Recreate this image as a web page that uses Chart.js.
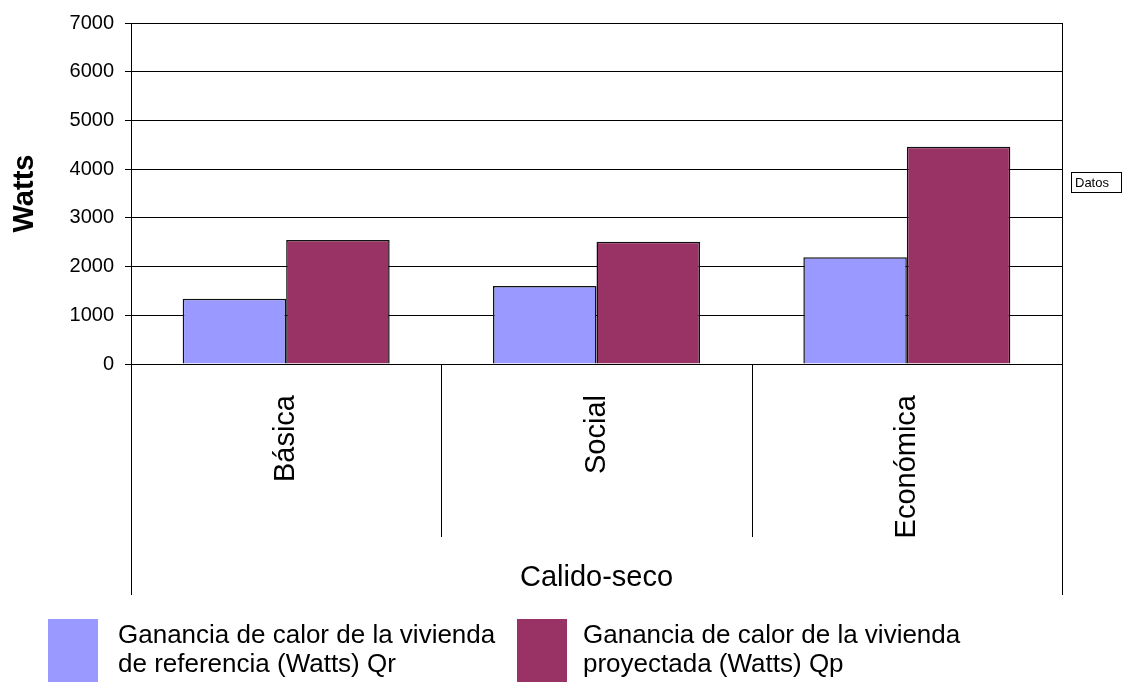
<!DOCTYPE html>
<html>
<head>
<meta charset="utf-8">
<script src="https://cdn.jsdelivr.net/npm/chart.js@4"></script>
<style>
  html, body { margin: 0; padding: 0; background: #fff; }
  #wrap { width: 1122px; height: 682px; position: relative; }
</style>
</head>
<body>
<div id="wrap"><canvas id="myChart"></canvas></div>
<script>
const categories = ['Básica', 'Social', 'Económica'];
const qrValues = [1340, 1600, 2190];   // referencia
const qpValues = [2545, 2510, 4460];   // proyectada
const yTicks = [0, 1000, 2000, 3000, 4000, 5000, 6000, 7000];
const seriesNames = [
  ['Ganancia de calor de la vivienda', 'de referencia (Watts) Qr'],
  ['Ganancia de calor de la vivienda', 'proyectada (Watts) Qp']
];
const colors = ['#9999FF', '#993366'];

const FONT = "'Liberation Sans', Arial, sans-serif";

// Excel style category dividers, legend and the "Datos" button
const excelBits = {
  id: 'excelBits',
  afterDraw(chart) {
    const c = chart.ctx;
    const x = chart.scales.x;
    const area = chart.chartArea;
    c.save();
    c.strokeStyle = '#000';
    c.lineWidth = 1;
    for (let i = 0; i <= categories.length; i++) {
      const px = Math.round(x.getPixelForValue(i - 0.5)) + 0.5;
      const edge = i === 0 || i === categories.length;
      c.beginPath();
      c.moveTo(px, edge ? area.top : area.bottom);
      c.lineTo(px, edge ? 595 : 537);
      c.stroke();
    }

    // legend
    const items = [{ bx: 48, tx: 118 }, { bx: 517, tx: 583 }];
    c.font = '26px ' + FONT;
    c.textBaseline = 'middle';
    c.textAlign = 'left';
    items.forEach((it, i) => {
      c.fillStyle = colors[i];
      c.fillRect(it.bx, 619, 50, 63);
      c.fillStyle = '#000';
      seriesNames[i].forEach((line, j) => c.fillText(line, it.tx, 636 + j * 29));
    });

    // Datos field button
    c.fillStyle = '#fff';
    c.fillRect(1071.5, 172.5, 50, 20);
    c.strokeRect(1071.5, 172.5, 50, 20);
    c.fillStyle = '#000';
    c.font = '13px ' + FONT;
    c.fillText('Datos', 1075, 183);
    c.restore();
  }
};

new Chart(document.getElementById('myChart'), {
  type: 'bar',
  data: {
    labels: categories,
    datasets: [{
      label: seriesNames[0].join(' '),
      data: qrValues,
      backgroundColor: colors[0],
      borderColor: '#111',
      borderWidth: 1.5
    }, {
      label: seriesNames[1].join(' '),
      data: qpValues,
      backgroundColor: colors[1],
      borderColor: '#111',
      borderWidth: 1.5
    }]
  },
  options: {
    responsive: true,
    maintainAspectRatio: false,
    animation: false,
    layout: { padding: { top: 20, right: 60, left: 0, bottom: 82 } },
    datasets: { bar: { categoryPercentage: 0.667, barPercentage: 1 } },
    plugins: {
      legend: { display: false },
      tooltip: { enabled: false }
    },
    scales: {
      x: {
        afterFit: (s) => { s.height = 236; },
        grid: { display: false },
        border: { display: true, color: '#000', width: 1 },
        ticks: {
          color: '#000',
          font: { family: FONT, size: 29 },
          minRotation: 90,
          maxRotation: 90,
          padding: 23
        },
        title: {
          display: true,
          text: 'Calido-seco',
          color: '#000',
          font: { family: FONT, size: 29 },
          padding: { top: 0, bottom: 5 }
        }
      },
      y: {
        min: 0,
        max: 7000,
        afterFit: (s) => { s.width = 131; },
        afterBuildTicks: (s) => { s.ticks = yTicks.map(v => ({ value: v })); },
        grid: { color: '#000', lineWidth: 1, tickLength: 6 },
        border: { display: true, color: '#000', width: 1 },
        ticks: {
          color: '#000',
          font: { family: FONT, size: 20 },
          padding: 11,
          callback: (v) => String(v)
        },
        title: {
          display: true,
          text: 'Watts',
          color: '#000',
          font: { family: FONT, size: 29, weight: 'bold' },
          padding: { top: 8, bottom: 0 }
        }
      }
    }
  },
  plugins: [excelBits]
});
</script>
</body>
</html>
